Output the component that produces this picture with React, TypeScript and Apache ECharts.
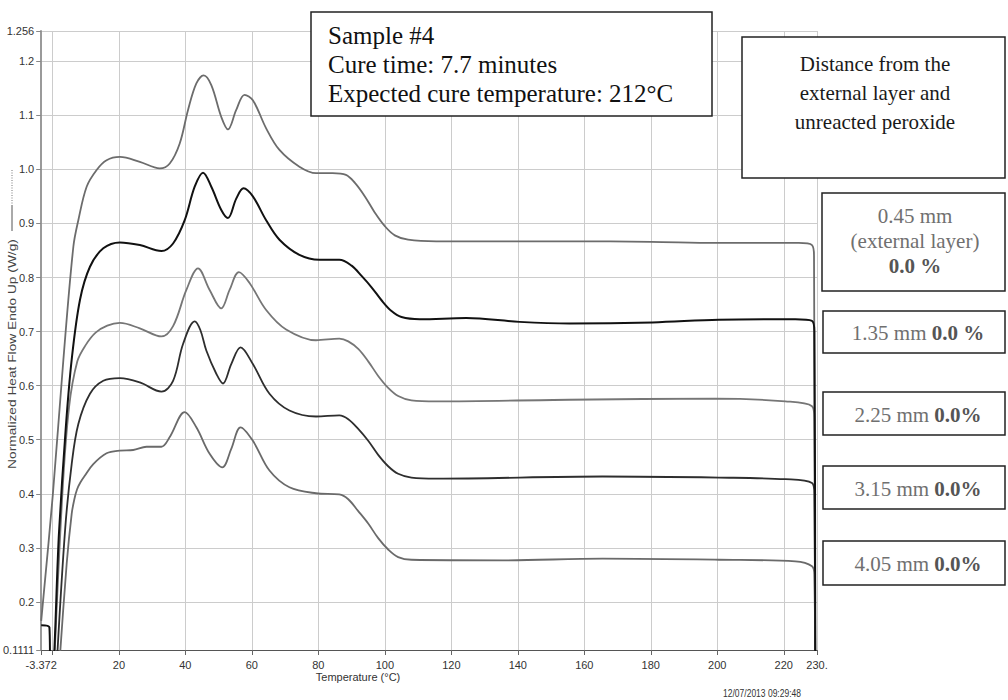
import React, { useEffect, useRef } from 'react';
import * as echarts from 'echarts';

// Axis extents (as printed on the chart)
const xMin = -3.372;
const xMax = 230;
const yMin = 0.1111;
const yMax = 1.256;

// Curve 1 – 0.45 mm (external layer)
const c1T = [-3.372, 0.15, 3.3, 6.3, 7.8, 10.3, 13.3, 16.3, 20.3, 26.3, 32.3, 35.3, 38.3, 40.8, 43.3, 45.5, 47.8, 50.8, 52.8, 55.3, 57.8, 60.3, 64.3, 68.3, 74.3, 79.3, 84.3, 88.3, 91, 94, 97, 100, 103, 107, 115.5, 135, 155.5, 180, 199.5, 224.5, 228.5, 229.1, 229.4];
const c1V = [0.165, 0.40, 0.648, 0.857, 0.906, 0.968, 0.999, 1.017, 1.023, 1.014, 1.002, 1.011, 1.048, 1.11, 1.159, 1.174, 1.156, 1.097, 1.074, 1.11, 1.138, 1.128, 1.076, 1.036, 1.005, 0.993, 0.993, 0.99, 0.975, 0.95, 0.92, 0.895, 0.878, 0.87, 0.867, 0.867, 0.867, 0.866, 0.864, 0.864, 0.86, 0.84, 0.0];

// Curve 2 – 1.35 mm
const c2T = [-3.372, -0.9, -0.6, -0.2, 2, 4, 5.8, 8.3, 11.3, 15.3, 20.3, 26.3, 32.8, 36.3, 39.8, 42.8, 45.3, 47.8, 50.8, 52.8, 55.3, 57.5, 60.3, 64.3, 68.3, 74.3, 80.3, 86.3, 90, 93, 96, 99, 102, 105, 110.5, 124.5, 140.5, 155.5, 180.5, 200.5, 223.5, 228.5, 229.2, 229.5];
const c2V = [0.157, 0.153, 0.06, 0.06, 0.33, 0.52, 0.648, 0.759, 0.82, 0.854, 0.865, 0.86, 0.849, 0.863, 0.906, 0.968, 0.994, 0.968, 0.925, 0.91, 0.946, 0.965, 0.95, 0.906, 0.87, 0.842, 0.833, 0.833, 0.822, 0.803, 0.782, 0.758, 0.738, 0.727, 0.723, 0.725, 0.718, 0.715, 0.717, 0.722, 0.723, 0.72, 0.7, 0.0];

// Curve 3 – 2.25 mm
const c3T = [0.3, 3, 5, 7.5, 10, 13, 16.5, 20.3, 26.3, 32.8, 36.3, 40.3, 43.8, 47.3, 50.8, 53.3, 56.1, 59.3, 64.3, 70.3, 79.3, 86.3, 89, 92, 95, 98, 101, 104, 108, 115.5, 155.5, 199.5, 220.5, 228.5, 229.2, 229.5];
const c3V = [0.05, 0.4, 0.56, 0.645, 0.675, 0.698, 0.711, 0.716, 0.706, 0.691, 0.71, 0.777, 0.817, 0.777, 0.743, 0.777, 0.81, 0.79, 0.74, 0.704, 0.684, 0.687, 0.682, 0.668, 0.645, 0.618, 0.596, 0.581, 0.573, 0.571, 0.574, 0.576, 0.571, 0.562, 0.54, 0.0];

// Curve 4 – 3.15 mm
const c4T = [1.0, 3.8, 5.8, 7.8, 11.3, 15.3, 20.3, 26.3, 32.8, 36.3, 39.3, 42.8, 44.5, 46.3, 49.3, 51.3, 53.8, 56.6, 60.3, 65.3, 71.3, 79.3, 86.3, 89, 92, 95, 98, 101, 104, 108, 115.5, 165.5, 200.5, 220.5, 228.5, 229.2, 229.5];
const c4V = [0.05, 0.332, 0.455, 0.529, 0.585, 0.609, 0.614, 0.606, 0.589, 0.609, 0.677, 0.719, 0.703, 0.665, 0.622, 0.604, 0.64, 0.671, 0.64, 0.585, 0.554, 0.543, 0.545, 0.538, 0.52, 0.498, 0.472, 0.451, 0.437, 0.43, 0.428, 0.432, 0.43, 0.427, 0.42, 0.4, 0.0];

// Curve 5 – 4.05 mm
const c5T = [1.7, 4.3, 5.8, 6.6, 7.4, 8.4, 9.8, 12.3, 16.3, 20.3, 24.3, 28.3, 32.8, 35.3, 39.8, 43.3, 47.3, 51.1, 53.8, 56.6, 60.3, 65.3, 71.3, 79.3, 86.3, 89, 92, 95, 98, 101, 104, 108, 135.5, 165.5, 200.5, 223.5, 228.5, 229.2, 229.5];
const c5V = [0.05, 0.271, 0.363, 0.39, 0.408, 0.421, 0.434, 0.455, 0.475, 0.48, 0.481, 0.487, 0.487, 0.505, 0.551, 0.523, 0.474, 0.449, 0.483, 0.523, 0.498, 0.443, 0.412, 0.401, 0.399, 0.39, 0.368, 0.345, 0.318, 0.297, 0.283, 0.278, 0.277, 0.28, 0.278, 0.275, 0.266, 0.25, 0.0];

const curveNames = ['0.45 mm', '1.35 mm', '2.25 mm', '3.15 mm', '4.05 mm'];
const curveColors = ['#6c6c6c', '#111111', '#767676', '#2e2e2e', '#6a6a6a'];

const sampleLines = ['Sample #4', 'Cure time: 7.7 minutes', 'Expected cure temperature: 212°C'];
const distanceLines = ['Distance from the', 'external layer and', 'unreacted peroxide'];
const depthLabels = ['1.35 mm', '2.25 mm', '3.15 mm', '4.05 mm'];
const percentLabels = ['0.0 %', '0.0%', '0.0%', '0.0%'];
const firstBoxLines = ['0.45 mm', '(external layer)', '0.0 %'];

const xAxisTitle = 'Temperature (°C)';
const yAxisTitle = 'Normalized Heat Flow Endo Up (W/g)';
const timestamp = '12/07/2013 09:29:48';

const SANS = "'Liberation Sans Narrow', 'Arial Narrow', 'Liberation Sans', Arial, sans-serif";
const SERIF = "'Liberation Serif', 'Times New Roman', serif";

function pairs(t: number[], v: number[]) {
  return t.map((x, i) => [x, v[i]]);
}

export default function App() {
  const ref = useRef<HTMLDivElement>(null);

  useEffect(() => {
    if (!ref.current) return;
    const chart = echarts.init(ref.current, undefined, { renderer: 'svg' });
    const curves = [pairs(c1T, c1V), pairs(c2T, c2V), pairs(c3T, c3V), pairs(c4T, c4V), pairs(c5T, c5V)];

    const boxStroke = { stroke: '#222', lineWidth: 1.5, fill: '#fff' };
    const grayText = '#707070';
    const boldText = '#555';

    const smallBoxTops = [311, 392, 466, 541];
    const smallBoxHeights = [42, 43, 43, 44];

    const graphics: any[] = [
      // Sample box
      { type: 'rect', z: 100, shape: { x: 311, y: 12, width: 401, height: 104 }, style: boxStroke },
      {
        type: 'text', z: 101, x: 328, y: 64,
        style: { text: sampleLines.join('\n'), font: `25px ${SERIF}`, fill: '#111', textAlign: 'left', textVerticalAlign: 'middle', lineHeight: 29 },
      },
      // Distance box
      { type: 'rect', z: 100, shape: { x: 742, y: 37, width: 263, height: 141 }, style: boxStroke },
      {
        type: 'text', z: 101, x: 875, y: 93,
        style: { text: distanceLines.join('\n'), font: `21px ${SERIF}`, fill: '#1a1a1a', textAlign: 'center', textVerticalAlign: 'middle', lineHeight: 29 },
      },
      // 0.45 mm box
      { type: 'rect', z: 100, shape: { x: 822, y: 193, width: 183, height: 98 }, style: boxStroke },
      {
        type: 'text', z: 101, x: 915, y: 241,
        style: {
          text: `${firstBoxLines[0]}\n${firstBoxLines[1]}\n{b|${firstBoxLines[2]}}`,
          font: `21px ${SERIF}`, fill: grayText, textAlign: 'center', textVerticalAlign: 'middle', lineHeight: 25,
          rich: { b: { fontFamily: SERIF, fontSize: 21, fontWeight: 'bold', fill: boldText, lineHeight: 25 } },
        },
      },
      // Y axis title and legend stroke
      {
        type: 'text', z: 101, x: 12, y: 354, rotation: Math.PI / 2, scaleX: 1.25,
        style: { text: yAxisTitle, font: `11px ${SANS}`, fill: '#444', textAlign: 'center', textVerticalAlign: 'middle' },
      },
      { type: 'line', z: 101, shape: { x1: 12, y1: 205, x2: 12, y2: 231 }, style: { stroke: '#555', lineWidth: 1 } },
      { type: 'line', z: 101, shape: { x1: 12, y1: 170, x2: 12, y2: 204 }, style: { stroke: '#777', lineWidth: 1, lineDash: [1, 1.5] } },
      // X axis title
      {
        type: 'text', z: 101, x: 358, y: 677,
        style: { text: xAxisTitle, font: `11px ${SANS}`, fill: '#333', textAlign: 'center', textVerticalAlign: 'middle' },
      },
      // Timestamp
      {
        type: 'text', z: 101, x: 762, y: 694, scaleX: 0.85,
        style: { text: timestamp, font: `10px ${SANS}`, fill: '#333', textAlign: 'center', textVerticalAlign: 'middle' },
      },
    ];

    depthLabels.forEach((d, i) => {
      const top = smallBoxTops[i];
      const h = smallBoxHeights[i];
      graphics.push({ type: 'rect', z: 100, shape: { x: 823, y: top, width: 182, height: h }, style: boxStroke });
      graphics.push({
        type: 'text', z: 101, x: 918, y: top + h / 2 + 1,
        style: {
          text: `${d} {b|${percentLabels[i]}}`,
          font: `21px ${SERIF}`, fill: grayText, textAlign: 'center', textVerticalAlign: 'middle',
          rich: { b: { fontFamily: SERIF, fontSize: 21, fontWeight: 'bold', fill: boldText } },
        },
      });
    });

    const near = (a: number, b: number) => Math.abs(a - b) < 1e-6;

    chart.setOption({
      animation: false,
      backgroundColor: '#ffffff',
      grid: { left: 41, right: 191, top: 31, bottom: 50, containLabel: false },
      xAxis: {
        type: 'value', min: xMin, max: xMax, splitNumber: 12,
        axisLine: { show: true, onZero: false, lineStyle: { color: '#555', width: 1 } },
        axisTick: { show: true, length: 5, lineStyle: { color: '#666' } },
        axisLabel: {
          margin: 9, fontSize: 11, color: '#333', fontFamily: SANS, showMinLabel: true, showMaxLabel: true,
          formatter: (v: number) => (near(v, xMin) ? '-3.372' : near(v, xMax) ? '230.' : near(v, 0) ? '' : String(Math.round(v))),
        },
        splitLine: { show: true, lineStyle: { color: '#cccccc', width: 1 } },
      },
      yAxis: {
        type: 'value', min: yMin, max: yMax, splitNumber: 10,
        axisLine: { show: true, onZero: false, lineStyle: { color: '#9a9a9a', width: 2 } },
        axisTick: { show: true, length: 5, lineStyle: { color: '#888' } },
        axisLabel: {
          margin: 7, fontSize: 11, color: '#333', fontFamily: SANS, showMinLabel: true, showMaxLabel: true,
          formatter: (v: number) => (near(v, yMin) ? '0.1111' : near(v, yMax) ? '1.256' : v.toFixed(1)),
        },
        splitLine: { show: true, lineStyle: { color: '#cccccc', width: 1 } },
      },
      series: curves.map((data, i) => ({
        name: curveNames[i],
        type: 'line',
        data,
        smooth: 0.35,
        showSymbol: false,
        symbol: 'none',
        clip: true,
        z: i === 1 ? 4 : 3,
        lineStyle: { color: curveColors[i], width: i === 1 ? 2 : 1.8 },
      })),
      graphic: graphics,
    });

    return () => chart.dispose();
  }, []);

  return <div ref={ref} style={{ position: 'fixed', left: 0, top: 0, width: 1008, height: 700 }} />;
}
